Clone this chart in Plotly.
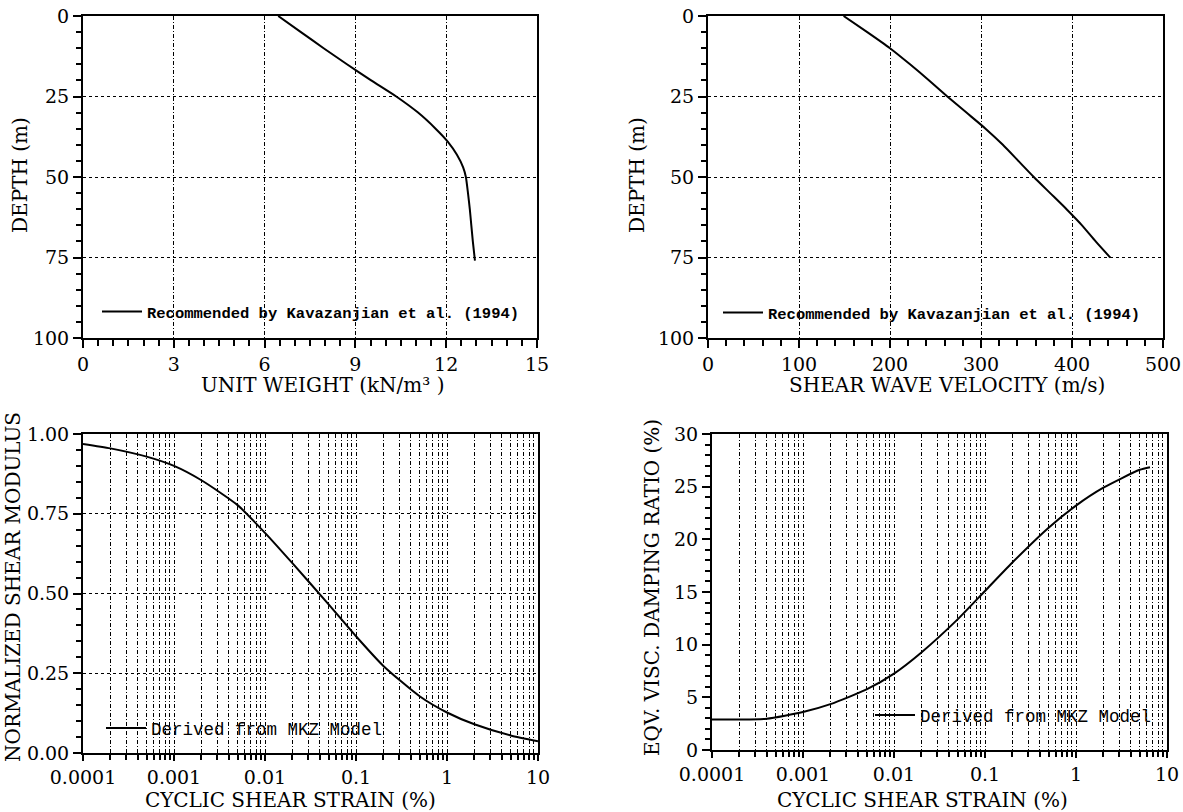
import plotly.graph_objects as go

W, H = 1183, 812

# ---------------- data ----------------
# (a) unit weight profile
uw_depth = [0, 5, 10, 15, 20, 25, 30, 35, 39, 43, 47, 50, 55, 60, 65, 70, 76]
uw_value = [6.45, 7.2, 7.95, 8.72, 9.52, 10.35, 11.07, 11.65, 12.05, 12.35, 12.56, 12.65, 12.72, 12.78, 12.83, 12.88, 12.95]

# (b) shear wave velocity profile
vs_depth = [0, 5, 10, 15, 20, 25, 30, 35, 40, 45, 50, 55, 60, 65, 70, 75]
vs_value = [149, 175, 200, 222, 243, 263, 284, 305, 324, 341, 358, 376, 394, 411, 426, 442]

# (c) normalized shear modulus
g_strain = [0.0001, 0.0002, 0.0005, 0.001, 0.002, 0.005, 0.01, 0.02, 0.05, 0.1, 0.2, 0.5, 1, 2, 5, 10]
g_ratio = [0.969, 0.955, 0.929, 0.900, 0.855, 0.777, 0.69, 0.595, 0.466, 0.366, 0.273, 0.178, 0.127, 0.09, 0.055, 0.037]

# (d) equivalent viscous damping ratio
d_strain = [0.0001, 0.0002, 0.0004, 0.001, 0.002, 0.005, 0.01, 0.02, 0.05, 0.1, 0.2, 0.5, 1, 2, 5, 6.5]
d_ratio = [2.9, 2.9, 2.97, 3.6, 4.35, 5.75, 7.25, 9.26, 12.4, 15.1, 17.8, 21.1, 23.2, 24.9, 26.6, 26.85]

# tick labels
uw_ticks = [0, 3, 6, 9, 12, 15]
vs_ticks = [0, 100, 200, 300, 400, 500]
depth_ticks = [0, 25, 50, 75, 100]
strain_ticks = [0.0001, 0.001, 0.01, 0.1, 1, 10]
strain_labels = ["0.0001", "0.001", "0.01", "0.1", "1", "10"]
g_ticks = [0, 0.25, 0.5, 0.75, 1.0]
g_labels = ["0.00", "0.25", "0.50", "0.75", "1.00"]
d_ticks = [0, 5, 10, 15, 20, 25, 30]
d_grid = [7.5, 15, 22.5]

legend_ref = "Recommended by Kavazanjian et al. (1994)"
legend_mkz = "Derived from MKZ Model"

# ---------------- styling ----------------
SERIF = "DejaVu Serif, Liberation Serif, serif"
TICKFONT = dict(family=SERIF, size=19, color="black")
TITLEFONT = dict(family=SERIF, size=20, color="black")
VDASH = "4px,2px,1px,2px"
HDASH = "3px,3px"


def px_x(p):
    return p / W


def px_y(p):
    return 1 - p / H


def base_axis(**kw):
    d = dict(
        showline=True, linecolor="black", linewidth=2, mirror=True,
        ticks="outside", ticklen=8, tickwidth=1.5, tickcolor="black",
        tickfont=TICKFONT, zeroline=False, automargin=False,
        showgrid=True, gridcolor="black", gridwidth=1,
    )
    d.update(kw)
    return d


fig = go.Figure()

line_style = dict(color="black", width=2, shape="spline", smoothing=0.6)

fig.add_trace(go.Scatter(x=uw_value, y=uw_depth, mode="lines", line=line_style,
                         name=legend_ref, xaxis="x", yaxis="y", legend="legend"))
fig.add_trace(go.Scatter(x=vs_value, y=vs_depth, mode="lines", line=line_style,
                         name=legend_ref, xaxis="x2", yaxis="y2", legend="legend2"))
fig.add_trace(go.Scatter(x=g_strain, y=g_ratio, mode="lines", line=line_style,
                         name=legend_mkz, xaxis="x3", yaxis="y3", legend="legend3"))
fig.add_trace(go.Scatter(x=d_strain, y=d_ratio, mode="lines", line=line_style,
                         name=legend_mkz, xaxis="x4", yaxis="y4", legend="legend4"))

top_y = [px_y(338), px_y(16)]

layout = dict(
    width=W, height=H,
    margin=dict(l=0, r=0, t=0, b=0, pad=0, autoexpand=False),
    paper_bgcolor="white", plot_bgcolor="white",
    showlegend=True,
    # (a)
    xaxis=base_axis(domain=[px_x(83), px_x(537)], anchor="y", range=[0, 15],
                    tickvals=uw_ticks, griddash=VDASH,
                    minor=dict(dtick=0.5, tick0=0, ticks="outside", ticklen=6,
                               tickwidth=1.5, tickcolor="black", showgrid=False)),
    yaxis=base_axis(domain=top_y, anchor="x", range=[100, 0],
                    tickvals=depth_ticks, griddash=HDASH,
                    minor=dict(dtick=5, tick0=0, ticks="outside", ticklen=5,
                               tickwidth=1.5, tickcolor="black", showgrid=False)),
    # (b)
    xaxis2=base_axis(domain=[px_x(708), px_x(1163)], anchor="y2", range=[0, 500],
                     tickvals=vs_ticks, griddash=VDASH,
                     minor=dict(dtick=20, tick0=0, ticks="outside", ticklen=6,
                                tickwidth=1.5, tickcolor="black", showgrid=False)),
    yaxis2=base_axis(domain=top_y, anchor="x2", range=[100, 0],
                     tickvals=depth_ticks, griddash=HDASH,
                     minor=dict(dtick=5, tick0=0, ticks="outside", ticklen=5,
                                tickwidth=1.5, tickcolor="black", showgrid=False)),
    # (c)
    xaxis3=base_axis(domain=[px_x(83), px_x(538)], anchor="y3", type="log", range=[-4, 1],
                     tickvals=strain_ticks, ticktext=strain_labels, griddash=VDASH,
                     ticklen=6,
                     minor=dict(dtick="D1", ticks="outside", ticklen=5, tickwidth=1.5,
                                tickcolor="black", showgrid=True, gridcolor="black",
                                gridwidth=1, griddash=VDASH)),
    yaxis3=base_axis(domain=[px_y(753), px_y(434)], anchor="x3", range=[0, 1],
                     tickvals=g_ticks, ticktext=g_labels, griddash=HDASH,
                     minor=dict(dtick=0.05, tick0=0, ticks="outside", ticklen=5,
                                tickwidth=1.5, tickcolor="black", showgrid=False)),
    # (d)
    xaxis4=base_axis(domain=[px_x(712), px_x(1167)], anchor="y4", type="log", range=[-4, 1],
                     tickvals=strain_ticks, ticktext=strain_labels, griddash=VDASH,
                     ticklen=6,
                     minor=dict(dtick="D1", ticks="outside", ticklen=5, tickwidth=1.5,
                                tickcolor="black", showgrid=True, gridcolor="black",
                                gridwidth=1, griddash=VDASH)),
    yaxis4=base_axis(domain=[px_y(750), px_y(434)], anchor="x4", range=[0, 30],
                     tickvals=d_ticks, showgrid=False,
                     minor=dict(dtick=1, tick0=0, ticks="outside", ticklen=5,
                                tickwidth=1.5, tickcolor="black", showgrid=False)),
    yaxis5=dict(overlaying="y4", anchor="x4", range=[0, 30], tickvals=d_grid,
                showticklabels=False, ticks="", showline=False, zeroline=False,
                automargin=False,
                showgrid=True, gridcolor="black", gridwidth=1, griddash=HDASH),
)

leg_common = dict(bgcolor="rgba(0,0,0,0)", borderwidth=0, xanchor="left", yanchor="middle",
                  itemwidth=40, tracegroupgap=0)
layout["legend"] = dict(leg_common, x=px_x(97), y=px_y(312),
                        font=dict(family="Liberation Mono", size=15.5, color="black", weight="bold"))
layout["legend2"] = dict(leg_common, x=px_x(718), y=px_y(313),
                         font=dict(family="Liberation Mono", size=15.5, color="black", weight="bold"))
layout["legend3"] = dict(leg_common, x=px_x(101), y=px_y(728),
                         font=dict(family="Liberation Mono", size=17.5, color="black"))
layout["legend4"] = dict(leg_common, x=px_x(870), y=px_y(715),
                         font=dict(family="Liberation Mono", size=17.5, color="black"))

fig.update_layout(**layout)

titles = [
    ("DEPTH (m)", 20, 175, -90),
    ("DEPTH (m)", 637, 175, -90),
    ("UNIT WEIGHT (kN/m³ )", 322, 385, 0),
    ("SHEAR WAVE VELOCITY (m/s)", 947, 385, 0),
    ("NORMALIZED SHEAR MODULUS", 13, 587, -90),
    ("CYCLIC SHEAR STRAIN (%)", 290, 800, 0),
    ("EQV. VISC. DAMPING RATIO (%)", 652, 588, -90),
    ("CYCLIC SHEAR STRAIN (%)", 922, 800, 0),
]
for text, x, y, ang in titles:
    fig.add_annotation(text=text, x=px_x(x), y=px_y(y), xref="paper", yref="paper",
                       xanchor="center", yanchor="middle", showarrow=False,
                       textangle=ang, font=TITLEFONT)

fig.write_html("out.html", config={"displayModeBar": False},
               post_script="document.body.style.margin='0';")
